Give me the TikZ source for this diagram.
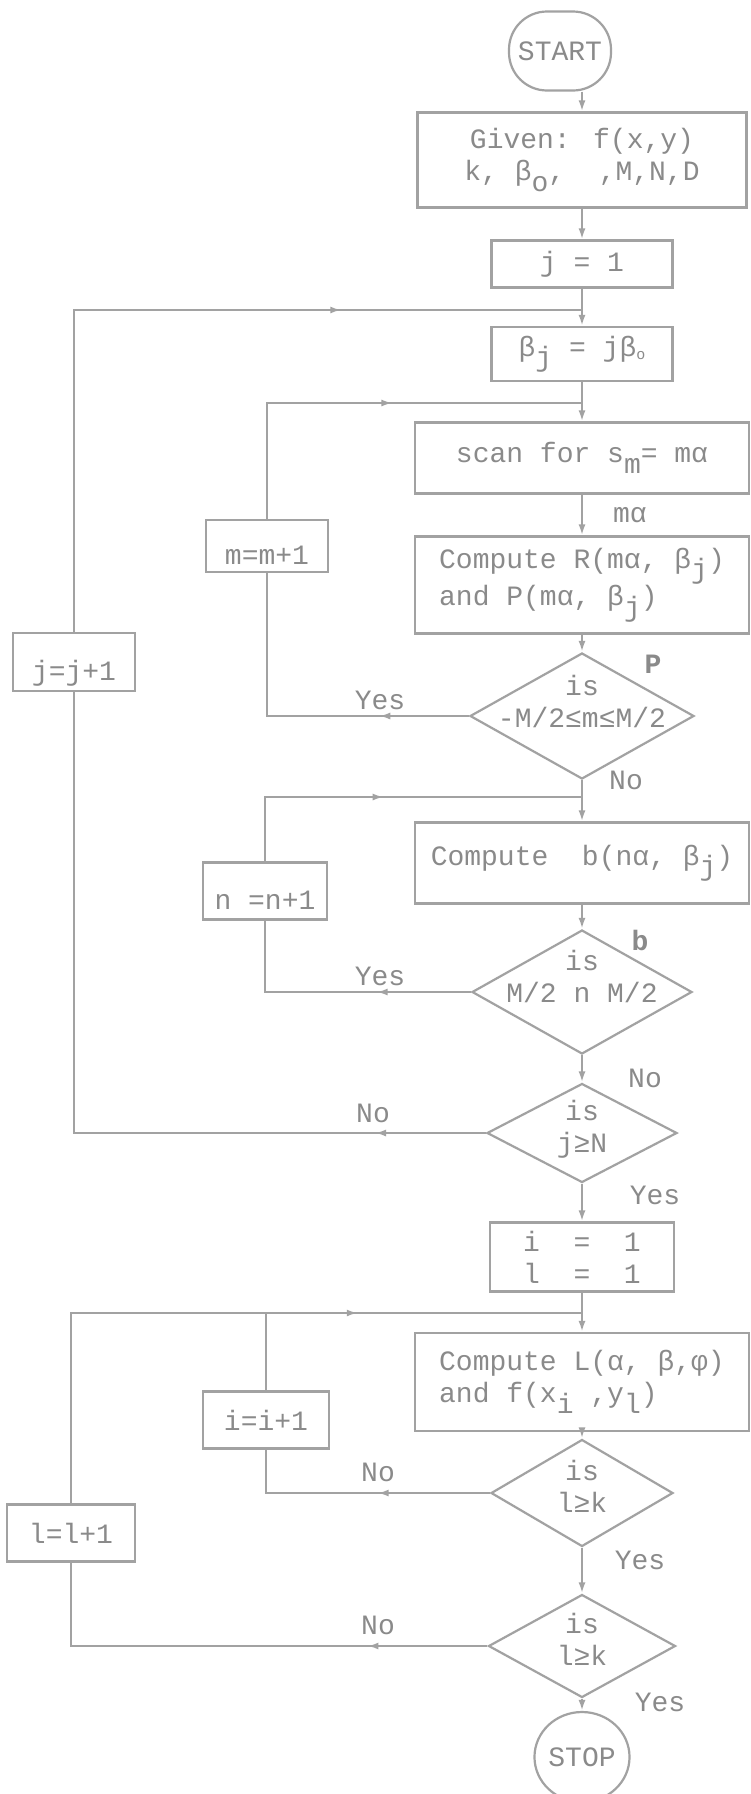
\documentclass[tikz,border=0pt]{standalone}
\usepackage{fontspec}
\setmainfont{Liberation Mono}
\usetikzlibrary{shapes,arrows,arrows.meta,positioning,calc,decorations.markings}

\definecolor{ink}{RGB}{162,162,162}
\definecolor{typeink}{RGB}{138,138,138}

% lowered typewriter index
\newcommand{\lo}[1]{\raisebox{-0.7ex}{#1}}
\newcommand{\tinyo}{\raisebox{-0.2ex}{\fontsize{15}{15}\selectfont o}}
% two lines set inside a diamond, without widening it
\newcommand{\dtext}[3][-19pt]{\smash{\makebox[0pt]{\raisebox{#1}{\begin{tabular}[b]{@{}c@{}}#2\\#3\end{tabular}}}}}

\begin{document}
\begin{tikzpicture}[
    x=1pt, y=-1pt,
    font=\fontsize{28}{32}\selectfont,
    text=typeink,
    block/.style 2 args={
        rectangle,
        draw=ink,
        line width=2.2pt,
        minimum width=#1,
        minimum height=#2,
        inner sep=2pt,
        align=center
    },
    incr/.style={
        inner ysep=0pt,
        text height=44pt,
        text depth=8pt
    },
    decision/.style 2 args={
        diamond,
        draw=ink,
        line width=2.2pt,
        inner sep=0pt,
        minimum width=#1,
        minimum height=#2
    },
    terminal/.style={
        rectangle,
        rounded corners=38pt,
        draw=ink,
        line width=2.2pt,
        minimum width=102pt,
        minimum height=79pt,
        inner sep=0pt
    },
    stopnode/.style={
        ellipse,
        draw=ink,
        line width=2.2pt,
        minimum width=82pt,
        minimum height=90pt,
        inner sep=0pt
    },
    line/.style={
        draw=ink,
        color=ink,
        line width=2.2pt
    },
    flow/.style={line, -{Latex[length=11pt,width=7pt]}},
    midarrow/.style={
        postaction={decorate},
        decoration={markings, mark=at position #1 with {\arrow{Latex[length=11pt,width=7pt]}}}
    },
    lbl/.style={inner sep=0pt, text=typeink}
]

\path[use as bounding box, fill=white] (0,0) rectangle (750,1794);

% Nodes
\node[terminal] (start) at (560,51) {START};
\node[block={329pt}{95pt}] (given) at (582,160) {Given: f(x,y)\\k, β\lo{o}, \ ,M,N,D};
\node[block={181pt}{47pt}] (j1) at (582,264) {j = 1};
\node[block={181pt}{54pt}] (bj) at (582,354) {β\lo{j} = jβ\tinyo};
\node[block={334pt}{71pt}] (scan) at (582,458) {scan for s\lo{m}= mα};
\node[block={334pt}{97pt}, align=left] (compR) at (582,585) {Compute R(mα, β\lo{j})\\and P(mα, β\lo{j})};
\node[block={122pt}{52pt}, incr] (mbox) at (267,546) {m=m+1};
\node[block={122pt}{58pt}, incr] (jbox) at (74,662) {j=j+1};
\node[decision={224pt}{126pt}] (d1) at (582,716) {\dtext[-11pt]{is}{-M/2≤m≤M/2}};
\node[block={334pt}{81pt}] (compB) at (582,863) {Compute\ \ b(nα, β\lo{j})};
\node[block={124pt}{57pt}, incr] (nbox) at (265,891) {n =n+1};
\node[decision={220pt}{124pt}] (d2) at (582,992) {\dtext[-10pt]{is}{M/2 n M/2}};
\node[decision={190pt}{99pt}] (d3) at (582,1133) {\dtext{is}{j≥N}};
\node[block={184pt}{69pt}] (i1) at (582,1257) {i\ \ =\ \ 1\\l\ \ =\ \ 1};
\node[block={334pt}{98pt}, align=left] (compL) at (582,1382) {Compute L(α, β,φ)\\and f(x\lo{i} ,y\lo{l})};
\node[block={126pt}{57pt}] (ibox) at (266,1420) {i=i+1};
\node[block={128pt}{57pt}] (lbox) at (71,1533) {l=l+1};
\node[decision={182pt}{107pt}] (d4) at (582,1493) {\dtext{is}{l≥k}};
\node[decision={187pt}{103pt}] (d5) at (582,1646) {\dtext{is}{l≥k}};
\node[stopnode] (stop) at (582,1757) {STOP};

% Junctions on the main column
\coordinate (jjoin) at (582,310);
\coordinate (mjoin) at (582,403);
\coordinate (njoin) at (582,797);
\coordinate (ijoin) at (582,1313);

% Paths
% 1. main column
\draw[flow] (start.south -| given.north) -- (given);
\draw[flow] (given) -- (j1);
\draw[flow] (j1) -- (bj);
\draw[flow] (bj) -- (scan);
\draw[flow] (scan) -- node[lbl, right=30pt] {mα} (compR);
\draw[flow] (compR) -- (d1);
\draw[flow] (d1) -- (compB);
\draw[flow] (compB) -- (d2);
\draw[flow] (d2) -- (d3);
\draw[flow] (d3) -- (i1);
\draw[flow] (i1) -- (compL);
\draw[flow] (compL) -- (d4);
\draw[flow] (d4) -- (d5);
\draw[flow] (d5) -- (stop);

% 2. loops back to the main column
\draw[line, midarrow=0.26] (d1.west) -| (mbox.south);
\draw[line, midarrow=0.56] (mbox.north) |- (mjoin);
\draw[line, midarrow=0.34] (d2.west) -| (nbox.south);
\draw[line, midarrow=0.48] (nbox.north) |- (njoin);
\draw[line, midarrow=0.13] (d3.west) -| (jbox.south);
\draw[line, midarrow=0.71] (jbox.north) |- (jjoin);
\draw[line, midarrow=0.42] (d4.west) -| (ibox.south);
\draw[line, midarrow=0.43] (ibox.north) |- (ijoin);
\draw[line, midarrow=0.24] (d5.west) -| (lbox.south);
\draw[line] (lbox.north) |- (ijoin);

% 3. branch labels
\node[lbl] (pLbl) at (653,664) {\textbf{P}};
\node[lbl] (yes1) at (380,700) {Yes};
\node[lbl] (no1) at (626,780) {No};
\node[lbl] (bLbl) at (640,940) {\textbf{b}};
\node[lbl] (yes2) at (380,976) {Yes};
\node[lbl] (no2) at (645,1078) {No};
\node[lbl] (no3) at (373,1113) {No};
\node[lbl] (yes3) at (655,1195) {Yes};
\node[lbl] (no4) at (378,1472) {No};
\node[lbl] (yes4) at (640,1560) {Yes};
\node[lbl] (no5) at (378,1625) {No};
\node[lbl] (yes5) at (660,1702) {Yes};

\end{tikzpicture}
\end{document}
